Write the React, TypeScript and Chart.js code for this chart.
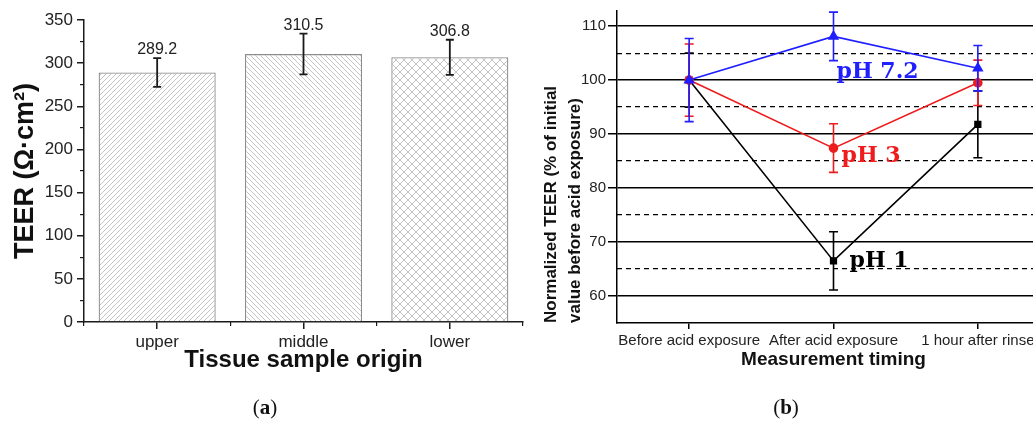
import React, { useEffect, useRef } from 'react';
import { Chart, registerables } from 'chart.js';

Chart.register(...registerables);

// ---------- Panel (a) data ----------
const originCategories = ['upper', 'middle', 'lower'];
const teerMeans = [289.2, 310.5, 306.8];
const teerErrors = [16.7, 23.6, 20.3];
const teerYTicks = [0, 50, 100, 150, 200, 250, 300, 350];
const teerYMinorTicks = [25, 75, 125, 175, 225, 275, 325];

// ---------- Panel (b) data ----------
const timingCategories = ['Before acid exposure', 'After acid exposure', '1 hour after rinse'];
const ph72Values = [100, 108.1, 102.2];
const ph72Errors = [7.7, 4.5, 4.2];
const ph3Values = [100, 87.4, 99.5];
const ph3Errors = [6.7, 4.5, 4.2];
const ph1Values = [100, 66.5, 91.8];
const ph1Errors = [5.0, 5.4, 6.2];
const normYTicks = [60, 70, 80, 90, 100, 110];
const normDashTicks = [65, 75, 85, 95, 105];
const phLabels = [
  { text: 'pH 7.2', index: 1, value: 100.4, color: '#1f1fff', dx: 3 },
  { text: 'pH 3', index: 1, value: 84.9, color: '#ee1c1c', dx: 8 },
  { text: 'pH 1', index: 1, value: 65.3, color: '#000000', dx: 16 },
];

const SANS = '"Liberation Sans", Arial, sans-serif';
const BLUE = '#1f1fff';
const RED = '#ee1c1c';

function makeHatch(kind: string): any {
  const s = kind === 'cross' ? 8 : 5;
  const c = document.createElement('canvas');
  c.width = s;
  c.height = s;
  const g = c.getContext('2d') as CanvasRenderingContext2D;
  g.fillStyle = '#ffffff';
  g.fillRect(0, 0, s, s);
  g.strokeStyle = '#bdbdbd';
  g.lineWidth = 0.9;
  const fwd = () => {
    g.beginPath();
    g.moveTo(-1, s + 1); g.lineTo(s + 1, -1);
    g.moveTo(-1, 1); g.lineTo(1, -1);
    g.moveTo(s - 1, s + 1); g.lineTo(s + 1, s - 1);
    g.stroke();
  };
  const back = () => {
    g.beginPath();
    g.moveTo(-1, -1); g.lineTo(s + 1, s + 1);
    g.moveTo(s - 1, -1); g.lineTo(s + 1, 1);
    g.moveTo(-1, s - 1); g.lineTo(1, s + 1);
    g.stroke();
  };
  if (kind === 'fwd') fwd();
  else if (kind === 'back') back();
  else { fwd(); back(); }
  return g.createPattern(c, 'repeat');
}

function drawErrorBar(ctx: CanvasRenderingContext2D, yScale: any, x: number, v: number, e: number, color: string, cap: number, lw: number) {
  const yt = yScale.getPixelForValue(v + e);
  const yb = yScale.getPixelForValue(v - e);
  ctx.save();
  ctx.strokeStyle = color;
  ctx.lineWidth = lw;
  ctx.beginPath();
  ctx.moveTo(x, yt); ctx.lineTo(x, yb);
  ctx.moveTo(x - cap, yt); ctx.lineTo(x + cap, yt);
  ctx.moveTo(x - cap, yb); ctx.lineTo(x + cap, yb);
  ctx.stroke();
  ctx.restore();
}

const barErrorPlugin = {
  id: 'barErrors',
  afterDatasetsDraw(chart: any) {
    const ctx = chart.ctx;
    const y = chart.scales.y;
    chart.data.datasets.forEach((ds: any, di: number) => {
      const meta = chart.getDatasetMeta(di);
      meta.data.forEach((el: any, i: number) => {
        const v = ds.data[i];
        const e = ds.errors[i];
        drawErrorBar(ctx, y, el.x, v, e, '#1a1a1a', 4, 1.8);
        ctx.save();
        ctx.fillStyle = '#222';
        ctx.font = `16px ${SANS}`;
        ctx.textAlign = 'center';
        ctx.textBaseline = 'middle';
        ctx.fillText(v.toFixed(1), el.x, y.getPixelForValue(v + e) - 8);
        ctx.restore();
      });
    });
  },
};

const lineErrorPlugin = {
  id: 'lineErrors',
  afterDatasetDraw(chart: any, args: any) {
    const ds = chart.data.datasets[args.index];
    const y = chart.scales.y;
    args.meta.data.forEach((el: any, i: number) => {
      drawErrorBar(chart.ctx, y, el.x, ds.data[i], ds.errors[i], ds.borderColor, 4.5, 1.6);
    });
  },
  afterDraw(chart: any) {
    const ctx = chart.ctx;
    const x = chart.scales.x;
    const y = chart.scales.y;
    ctx.save();
    ctx.font = 'bold 22px "DejaVu Serif", serif';
    ctx.textAlign = 'left';
    ctx.textBaseline = 'alphabetic';
    phLabels.forEach((l) => {
      ctx.fillStyle = l.color;
      ctx.fillText(l.text, x.getPixelForValue(l.index) + l.dx, y.getPixelForValue(l.value));
    });
    ctx.restore();
  },
};

export default function App() {
  const leftRef = useRef<HTMLCanvasElement>(null);
  const rightRef = useRef<HTMLCanvasElement>(null);

  useEffect(() => {
    const axisColor = '#1a1a1a';
    const left = new Chart(leftRef.current as HTMLCanvasElement, {
      type: 'bar',
      data: {
        labels: originCategories,
        datasets: [
          {
            data: teerMeans,
            errors: teerErrors,
            backgroundColor: [makeHatch('fwd'), makeHatch('back'), makeHatch('cross')],
            borderColor: '#8c8c8c',
            borderWidth: 1.3,
            barPercentage: 0.8,
            categoryPercentage: 1,
          } as any,
        ],
      },
      options: {
        responsive: false,
        animation: false,
        layout: { padding: { left: 0, right: 7, top: 20, bottom: 0 } },
        plugins: { legend: { display: false }, tooltip: { enabled: false } },
        scales: {
          x: {
            type: 'category',
            offset: true,
            weight: 1,
            grid: { offset: false, drawOnChartArea: false, tickLength: 7, color: axisColor, lineWidth: 1.5 },
            border: { color: axisColor, width: 1.5 },
            ticks: { font: { family: SANS, size: 17 }, color: '#222', padding: 3, maxRotation: 0, autoSkip: false },
            title: {
              display: true,
              text: 'Tissue sample origin',
              font: { family: SANS, size: 24, weight: 'bold', lineHeight: 1.2 },
              color: '#111',
              padding: { top: 0, bottom: 46 },
            },
            afterFit: (s: any) => { s.height = 99; },
          },
          xMinor: {
            type: 'category',
            position: 'bottom',
            offset: true,
            weight: 0,
            grid: { offset: true, drawOnChartArea: false, tickLength: 4, color: axisColor, lineWidth: 1.2 },
            border: { display: false },
            ticks: { display: false },
            afterFit: (s: any) => { s.height = 0; },
          },
          y: {
            type: 'linear',
            min: 0,
            max: 350,
            weight: 1,
            afterBuildTicks: (s: any) => { s.ticks = teerYTicks.map((v) => ({ value: v })); },
            grid: { drawOnChartArea: false, tickLength: 7, color: axisColor, lineWidth: 1.5 },
            border: { color: axisColor, width: 1.5 },
            ticks: { font: { family: SANS, size: 17 }, color: '#222', padding: 4 },
            title: {
              display: true,
              text: 'TEER (Ω·cm²)',
              font: { family: SANS, size: 27, weight: 'bold', lineHeight: 1.2 },
              color: '#111',
              padding: { top: 9.8, bottom: 0 },
            },
            afterFit: (s: any) => { s.width = 84; },
          },
          yMinor: {
            type: 'linear',
            position: 'left',
            min: 0,
            max: 350,
            weight: 0,
            afterBuildTicks: (s: any) => { s.ticks = teerYMinorTicks.map((v) => ({ value: v })); },
            grid: { drawOnChartArea: false, tickLength: 4, color: axisColor, lineWidth: 1.2 },
            border: { display: false },
            ticks: { display: false },
            afterFit: (s: any) => { s.width = 0; },
          },
        },
      } as any,
      plugins: [barErrorPlugin],
    });

    const right = new Chart(rightRef.current as HTMLCanvasElement, {
      type: 'line',
      data: {
        labels: timingCategories,
        datasets: [
          {
            label: 'pH 7.2', data: ph72Values, errors: ph72Errors,
            borderColor: BLUE, backgroundColor: BLUE, borderWidth: 1.6,
            pointStyle: 'triangle', pointRadius: 5, tension: 0,
          } as any,
          {
            label: 'pH 3', data: ph3Values, errors: ph3Errors,
            borderColor: RED, backgroundColor: RED, borderWidth: 1.6,
            pointStyle: 'circle', pointRadius: 4, tension: 0,
          } as any,
          {
            label: 'pH 1', data: ph1Values, errors: ph1Errors,
            borderColor: '#000000', backgroundColor: '#000000', borderWidth: 1.6,
            pointStyle: 'rect', pointRadius: 4, tension: 0,
          } as any,
        ],
      },
      options: {
        responsive: false,
        animation: false,
        layout: { padding: { left: 0, right: 10, top: 11, bottom: 0 } },
        plugins: { legend: { display: false }, tooltip: { enabled: false } },
        scales: {
          x: {
            type: 'category',
            offset: true,
            grid: { offset: false, drawOnChartArea: false, tickLength: 6, color: '#000', lineWidth: 1.5 },
            border: { color: '#000', width: 1.5 },
            ticks: { font: { family: SANS, size: 15 }, color: '#222', padding: 3, maxRotation: 0, minRotation: 0, autoSkip: false },
            title: {
              display: true,
              text: 'Measurement timing',
              font: { family: SANS, size: 19, weight: 'bold', lineHeight: 1.2 },
              color: '#111',
              padding: { top: 0, bottom: 49.6 },
            },
            afterFit: (s: any) => { s.height = 98; },
          },
          y: {
            type: 'linear',
            min: 55,
            max: 112.8,
            weight: 1,
            afterBuildTicks: (s: any) => { s.ticks = normYTicks.map((v) => ({ value: v })); },
            grid: { color: '#000', lineWidth: 1.5, tickLength: 9 },
            border: { color: '#000', width: 1.5 },
            ticks: { font: { family: SANS, size: 15, lineHeight: 1 }, color: '#222', padding: 2 },
            title: {
              display: true,
              text: ['Normalized TEER (% of initial', 'value before acid exposure)'],
              align: 'start',
              font: { family: SANS, size: 17, weight: 'bold', lineHeight: 1.37 },
              color: '#111',
              padding: { top: 10, bottom: 0 },
            },
            afterFit: (s: any) => { s.width = 87; },
          },
          yDash: {
            type: 'linear',
            position: 'left',
            min: 55,
            max: 112.8,
            weight: 0,
            afterBuildTicks: (s: any) => { s.ticks = normDashTicks.map((v) => ({ value: v })); },
            grid: { color: '#000', lineWidth: 1.2, drawTicks: false },
            border: { display: false, dash: [5, 4] },
            ticks: { display: false },
            afterFit: (s: any) => { s.width = 0; },
          },
        },
      } as any,
      plugins: [lineErrorPlugin],
    });

    return () => {
      left.destroy();
      right.destroy();
    };
  }, []);

  const captionStyle: React.CSSProperties = {
    position: 'absolute',
    top: 394,
    width: 100,
    textAlign: 'center',
    fontFamily: '"Liberation Serif", "Times New Roman", serif',
    fontSize: 21,
    lineHeight: '26px',
    color: '#111',
  };

  return (
    <div style={{ position: 'fixed', left: 0, top: 0, width: 1033, height: 421, overflow: 'hidden', background: '#fff' }}>
      <canvas ref={leftRef} width={530} height={421} style={{ position: 'absolute', left: 0, top: 0, width: 530, height: 421 }} />
      <canvas ref={rightRef} width={530} height={421} style={{ position: 'absolute', left: 530, top: 0, width: 530, height: 421 }} />
      <div style={{ ...captionStyle, left: 215 }}>(<b>a</b>)</div>
      <div style={{ ...captionStyle, left: 736 }}>(<b>b</b>)</div>
    </div>
  );
}
